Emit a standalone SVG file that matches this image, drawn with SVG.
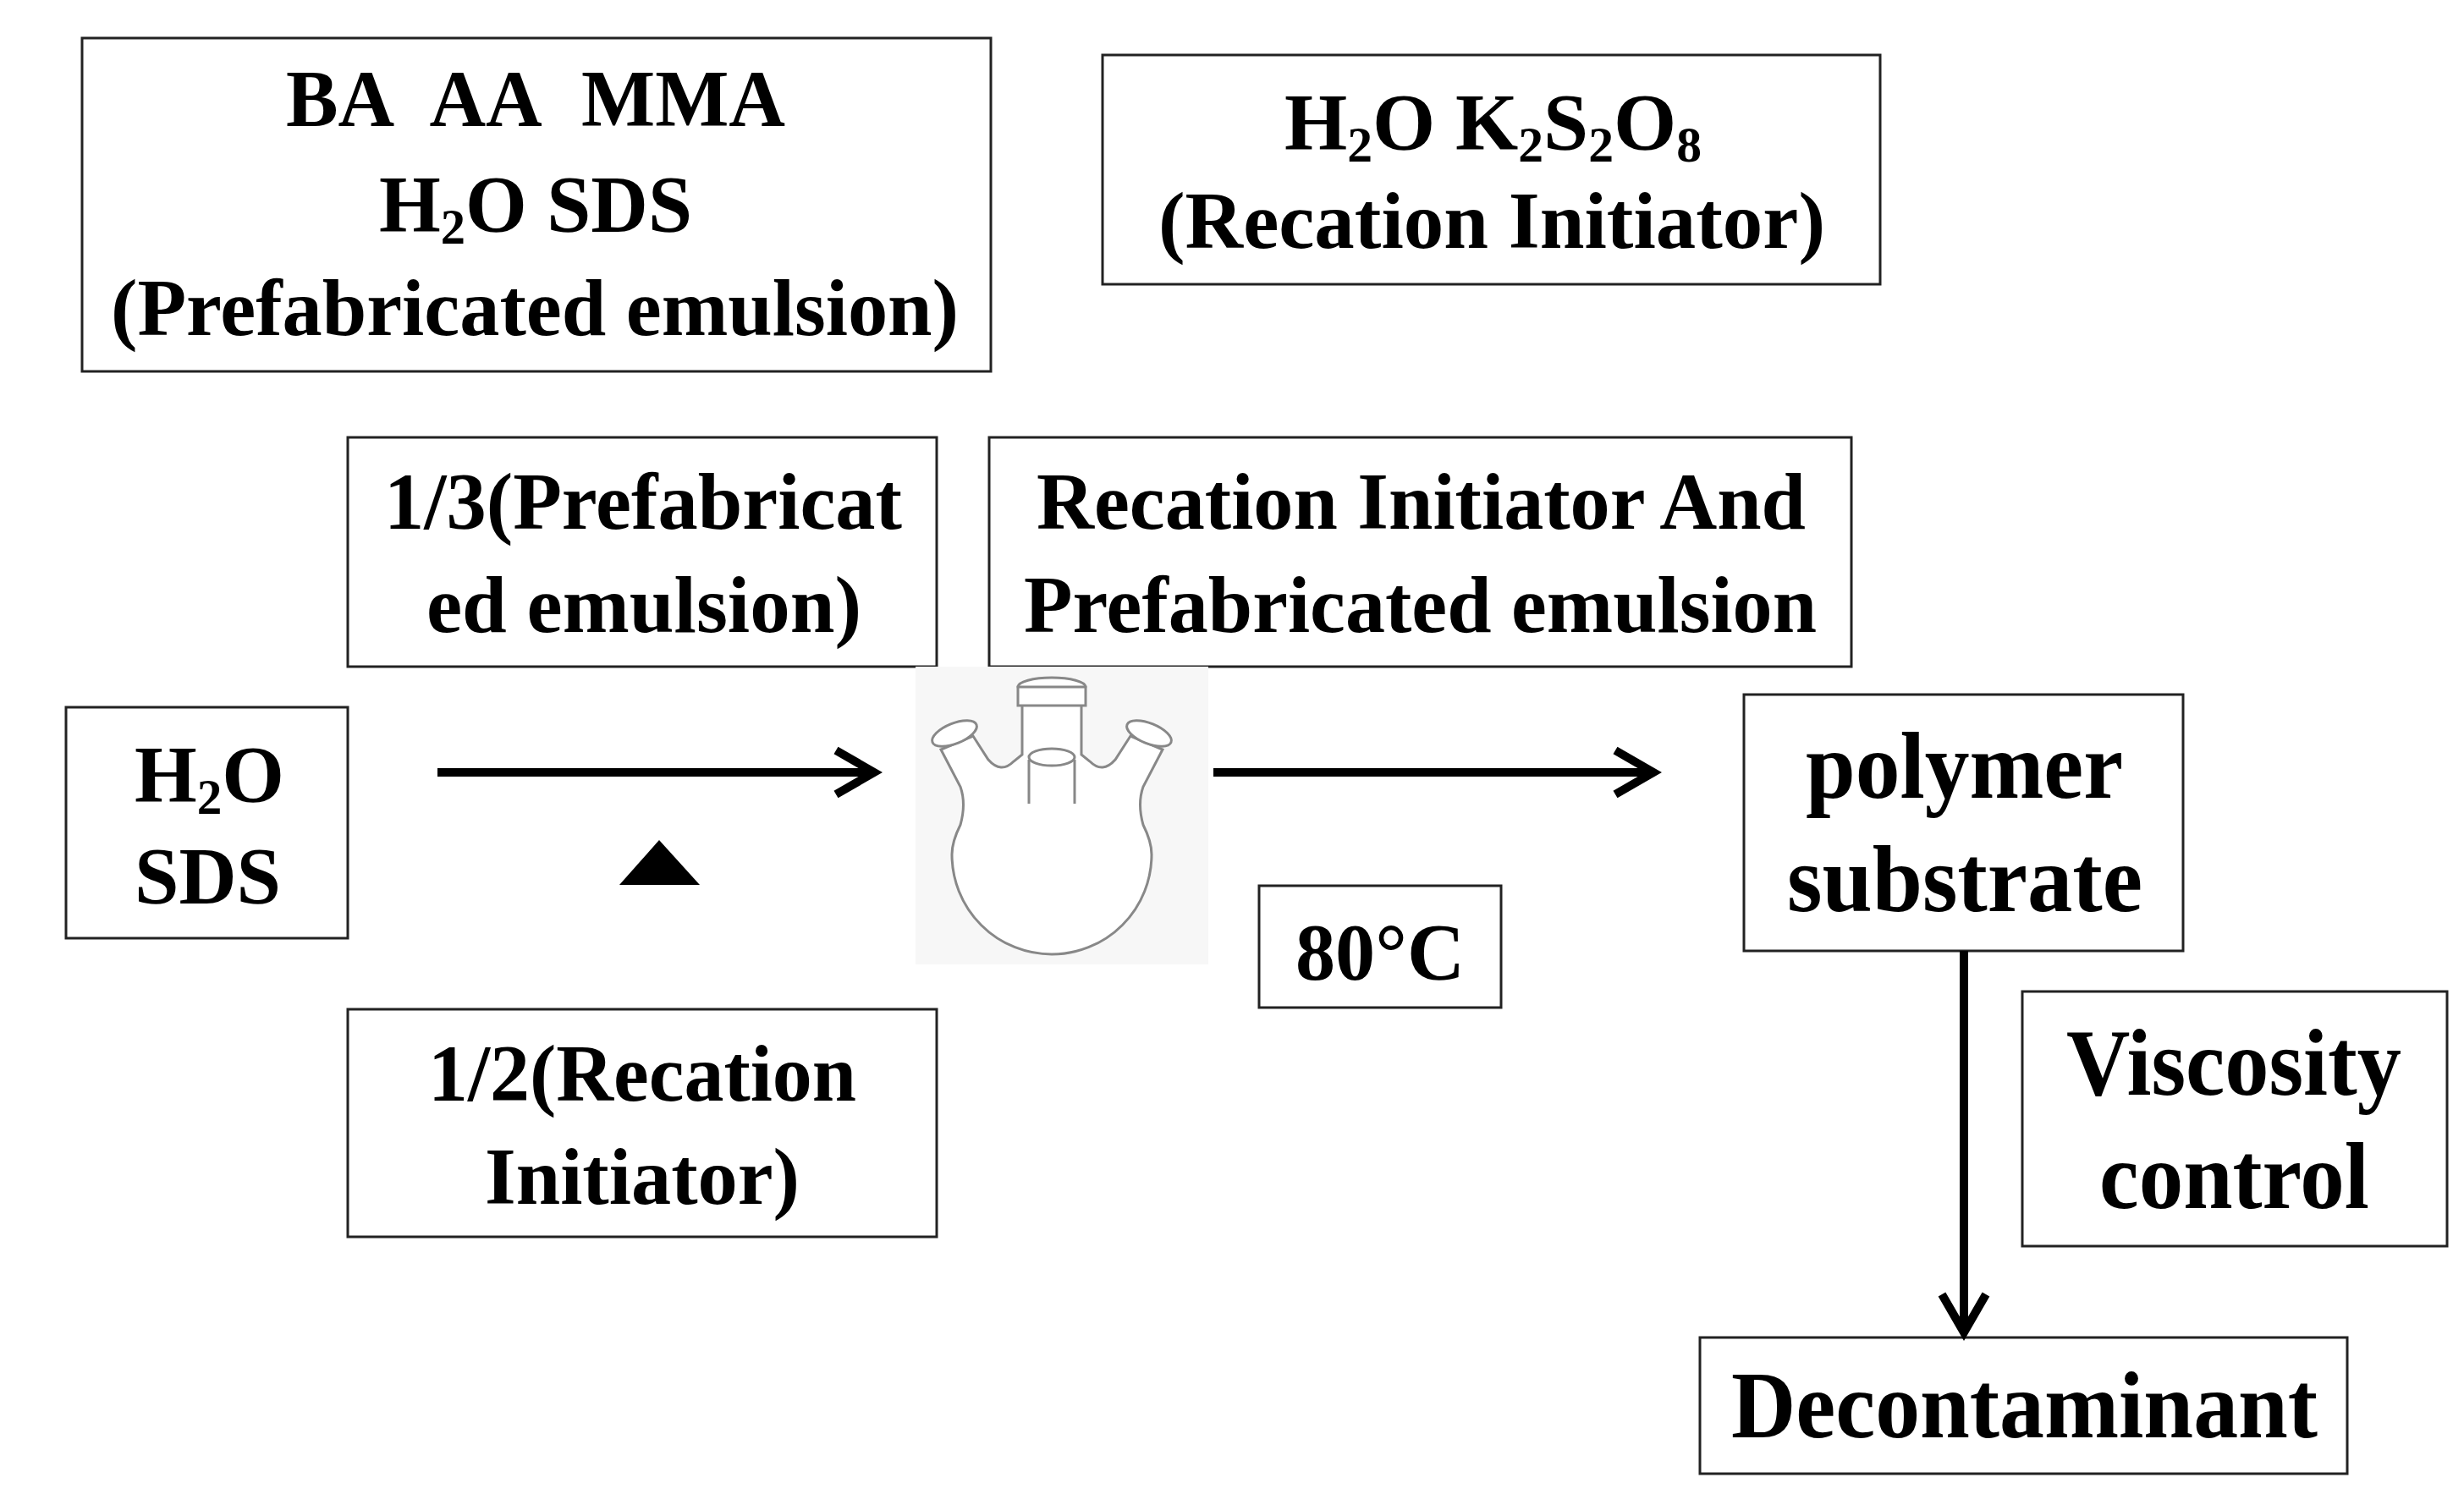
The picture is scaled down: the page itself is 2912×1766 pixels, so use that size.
<svg xmlns="http://www.w3.org/2000/svg" width="2912" height="1766" viewBox="0 0 2912 1766">
<style>
.box{fill:#fff;stroke:#222;stroke-width:3}
text{font-family:"Liberation Serif","Times New Roman",serif;font-weight:bold;fill:#000;text-anchor:start}
.f{font-size:96px}
.g{font-size:112px}
.ln{stroke:#000;stroke-width:10;fill:none}
.fl{stroke:#888;stroke-width:3;fill:#fff}
</style>
<rect width="2912" height="1766" fill="#fff"/>
<g id="n1"><rect class="box" x="97" y="45" width="1074" height="394"/>
<text class="f" x="338" y="149" textLength="590" lengthAdjust="spacingAndGlyphs">BA&#160; AA&#160; MMA</text>
<text class="f" x="448" y="274" textLength="370" lengthAdjust="spacingAndGlyphs">H<tspan font-size="60" dy="14">2</tspan><tspan dy="-14">O SDS</tspan></text>
<text class="f" x="131" y="396" textLength="1002" lengthAdjust="spacingAndGlyphs">(Prefabricated emulsion)</text></g>
<g id="n2"><rect class="box" x="1303" y="65" width="919" height="271"/>
<text class="f" x="1518" y="177" textLength="493" lengthAdjust="spacingAndGlyphs">H<tspan font-size="60" dy="14">2</tspan><tspan dy="-14">O K</tspan><tspan font-size="60" dy="14">2</tspan><tspan dy="-14">S</tspan><tspan font-size="60" dy="14">2</tspan><tspan dy="-14">O</tspan><tspan font-size="60" dy="14">8</tspan></text>
<text class="f" x="1369" y="293" textLength="788" lengthAdjust="spacingAndGlyphs">(Recation Initiator)</text></g>
<g id="n3"><rect class="box" x="411" y="517" width="696" height="271"/>
<text class="f" x="454" y="625" textLength="612" lengthAdjust="spacingAndGlyphs">1/3(Prefabricat</text>
<text class="f" x="504" y="747" textLength="514" lengthAdjust="spacingAndGlyphs">ed emulsion)</text></g>
<g id="n4"><rect class="box" x="1169" y="517" width="1019" height="271"/>
<text class="f" x="1225" y="625" textLength="909" lengthAdjust="spacingAndGlyphs">Recation Initiator And</text>
<text class="f" x="1210" y="747" textLength="937" lengthAdjust="spacingAndGlyphs">Prefabricated emulsion</text></g>
<g id="n5"><rect class="box" x="78" y="836" width="333" height="273"/>
<text class="f" x="159" y="948" textLength="177" lengthAdjust="spacingAndGlyphs">H<tspan font-size="60" dy="14">2</tspan><tspan dy="-14">O</tspan></text>
<text class="f" x="159" y="1068" textLength="173" lengthAdjust="spacingAndGlyphs">SDS</text></g>
<g id="n6"><rect class="box" x="1488" y="1047" width="286" height="144"/>
<text class="f" x="1531" y="1158" textLength="200" lengthAdjust="spacingAndGlyphs">80°C</text></g>
<g id="n7"><rect class="box" x="2061" y="821" width="519" height="303"/>
<text class="g" x="2134" y="943" textLength="375" lengthAdjust="spacingAndGlyphs">polymer</text>
<text class="g" x="2112" y="1077" textLength="420" lengthAdjust="spacingAndGlyphs">substrate</text></g>
<g id="n8"><rect class="box" x="411" y="1193" width="696" height="269"/>
<text class="f" x="506" y="1301" textLength="506" lengthAdjust="spacingAndGlyphs">1/2(Recation</text>
<text class="f" x="573" y="1423" textLength="372" lengthAdjust="spacingAndGlyphs">Initiator)</text></g>
<g id="n9"><rect class="box" x="2390" y="1172" width="502" height="301"/>
<text class="g" x="2442" y="1294" textLength="396" lengthAdjust="spacingAndGlyphs">Viscosity</text>
<text class="g" x="2481" y="1428" textLength="319" lengthAdjust="spacingAndGlyphs">control</text></g>
<g id="n10"><rect class="box" x="2009" y="1581" width="765" height="161"/>
<text class="g" x="2046" y="1699" textLength="693" lengthAdjust="spacingAndGlyphs">Decontaminant</text></g>
<g id="flask">
<rect x="1082" y="788" width="346" height="352" fill="#f7f7f7"/>
<path class="fl" d="M1112,886 L1135,930 Q1142,950 1135,975 Q1125,995 1125,1010 A118,118 0 1 0 1361,1010 Q1361,995 1351,975 Q1344,950 1351,930 L1374,886 L1336,870 L1318,898 Q1303,915 1288,900 L1278,892 L1278,830 L1208,830 L1208,892 L1198,900 Q1183,915 1168,898 L1150,870 Z"/>
<ellipse class="fl" cx="1243" cy="812" rx="40" ry="11"/>
<rect class="fl" x="1203" y="812" width="80" height="22"/>
<ellipse class="fl" cx="1243" cy="895" rx="27" ry="10"/>
<path class="fl" d="M1216,898 L1216,950 M1270,898 L1270,950"/>
<ellipse class="fl" cx="1128" cy="867" rx="28" ry="12" transform="rotate(-22 1128 867)"/>
<ellipse class="fl" cx="1358" cy="867" rx="28" ry="12" transform="rotate(22 1358 867)"/>
</g>
<g id="connectors">
<path class="ln" d="M517,913 H1033 M988,887 L1033,913 L988,939"/>
<path class="ln" d="M1434,913 H1954 M1909,887 L1954,913 L1909,939"/>
<path class="ln" d="M2321,1124 V1575 M2295,1530 L2321,1575 L2347,1530"/>
<polygon points="732,1046 779,993 827,1046" fill="#000"/>
</g>
</svg>
